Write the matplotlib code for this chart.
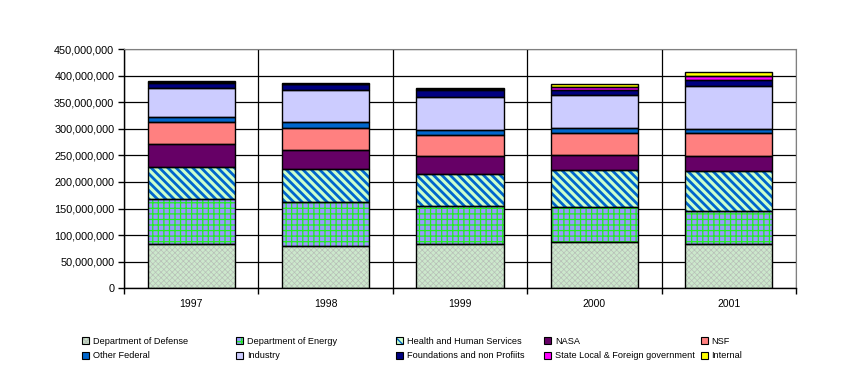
import matplotlib
matplotlib.use("Agg")
import matplotlib.pyplot as plt
import numpy as np
from matplotlib.ticker import FuncFormatter, FixedLocator
from matplotlib.legend_handler import HandlerTuple

plt.rcParams['font.family'] = ['Liberation Sans', 'DejaVu Sans']

years = ['1997', '1998', '1999', '2000', '2001']

# values in millions of dollars
defense    = [84, 80, 83, 87, 83]
energy     = [84, 83, 71, 65, 63]
hhs        = [61, 62, 61, 71, 75]
nasa       = [43, 36, 34, 28, 27]
nsf        = [41, 41, 40, 41, 44]
other_fed  = [9, 11, 9, 10, 8]
industry   = [55, 59, 61, 62, 81]
foundation = [9, 11.5, 14.5, 9, 11]
state_loc  = [1.5, 1.5, 1.5, 6, 8]
internal   = [1.5, 1.5, 1.5, 5, 7]

series = [
    ('Department of Defense', defense),
    ('Department of Energy', energy),
    ('Health and Human Services', hhs),
    ('NASA', nasa),
    ('NSF', nsf),
    ('Other Federal', other_fed),
    ('Industry', industry),
    ('Foundations and non Profiits', foundation),
    ('State Local & Foreign government', state_loc),
    ('Internal', internal),
]

# face colour, hatch, hatch colour, hatch linewidth
styles = {
    'Department of Defense': ('#CCE8CC', 'xxxxxx', '#B8C0B8', 0.5),
    'Department of Energy': ('#9999FF', '+++', '#22EE22', 0.9),
    'Health and Human Services': ('#CCFFCC', '\\\\\\\\', '#0066CC', 2.0),
    'NASA': ('#660066', None, None, 1),
    'NSF': ('#FF8080', None, None, 1),
    'Other Federal': ('#0066CC', None, None, 1),
    'Industry': ('#CCCCFF', None, None, 1),
    'Foundations and non Profiits': ('#000080', None, None, 1),
    'State Local & Foreign government': ('#FF00FF', None, None, 1),
    'Internal': ('#FFFF00', None, None, 1),
}

fig = plt.figure(figsize=(8.56, 3.69), dpi=100)
ax = fig.add_axes([0.1449, 0.2187, 0.7850, 0.6485])

x = np.arange(1, len(years) + 1)
bottom = np.zeros(len(years))
handles = {}
for name, vals in series:
    v = np.array(vals) * 1e6
    fc, hatch, hc, hlw = styles[name]
    with plt.rc_context({'hatch.linewidth': hlw}):
        if hatch:
            ax.bar(x, v, 0.65, bottom=bottom, color=fc, hatch=hatch,
                   edgecolor=hc, linewidth=0, zorder=2)
        else:
            ax.bar(x, v, 0.65, bottom=bottom, color=fc, linewidth=0, zorder=2)
    ax.bar(x, v, 0.65, bottom=bottom, fill=False, edgecolor='black',
           linewidth=1.0, zorder=3)
    with plt.rc_context({'hatch.linewidth': min(hlw, 1.0)}):
        inner = plt.Rectangle((0, 0), 1, 1, facecolor=fc, hatch=hatch,
                              edgecolor=hc if hatch else fc, linewidth=0)
    outline = plt.Rectangle((0, 0), 1, 1, fill=False, edgecolor='black',
                            linewidth=0.8)
    handles[name] = (inner, outline)
    bottom += v

ax.set_xlim(0.5, 5.5)
ax.set_ylim(0, 450e6)
ax.set_yticks(np.arange(0, 450e6 + 1, 50e6))
ax.yaxis.set_major_formatter(FuncFormatter(lambda val, pos: f'{val:,.0f}'))
ax.set_xticks(x)
ax.set_xticklabels(years)
ax.xaxis.set_minor_locator(FixedLocator(np.arange(0.5, 6, 1)))

ax.tick_params(axis='x', which='major', length=0, pad=8, labelsize=7.5)
ax.tick_params(axis='x', which='minor', length=4, width=1, direction='out')
ax.tick_params(axis='y', length=4, width=1, direction='out', pad=3, labelsize=7.8)

ax.grid(True, axis='y', color='black', linewidth=0.9, zorder=0)
ax.grid(True, axis='x', which='minor', color='black', linewidth=0.9, zorder=0)
ax.set_axisbelow(True)

for s in ['top', 'right']:
    ax.spines[s].set_color('#808080')
for s in ['left', 'bottom']:
    ax.spines[s].set_color('black')
    ax.spines[s].set_linewidth(1)

# legend: five columns of two rows, like the excel one
col_x = [0.0955, 0.2755, 0.4625, 0.6355, 0.8185]
for i, cx in enumerate(col_x):
    names = [series[i][0], series[i + 5][0]]
    fig.legend([handles[n] for n in names], names, loc='upper left',
               bbox_to_anchor=(cx, 0.087), frameon=False, fontsize=6.6,
               handler_map={tuple: HandlerTuple(ndivide=1, pad=0)},
               handlelength=0.78, handleheight=0.78, handletextpad=0.4,
               labelspacing=0.6, borderpad=0, borderaxespad=0)

fig.savefig('out.png', dpi=100)
